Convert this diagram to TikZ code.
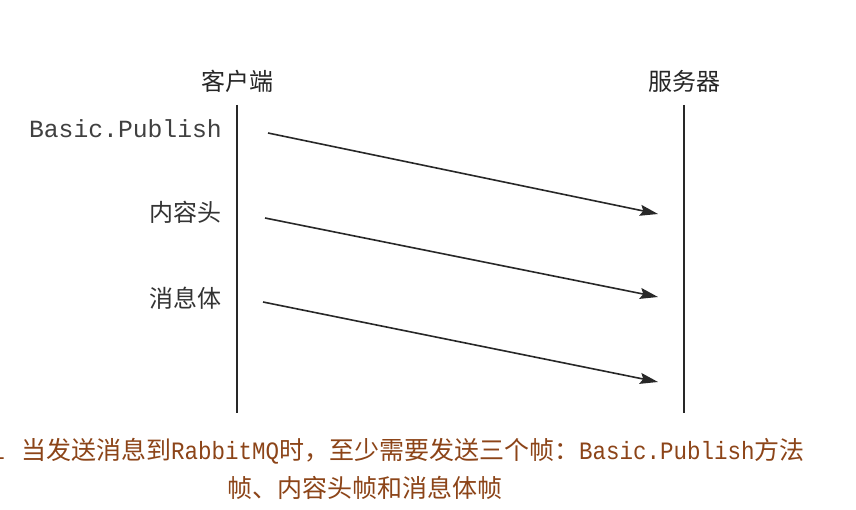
\documentclass[tikz,border=0pt]{standalone}
\usepackage{fontspec}
\usetikzlibrary{arrows.meta}
\newfontfamily\cjk{Noto Sans CJK SC}
\newfontfamily\lblmono{Liberation Mono}
\newfontfamily\capmono[FakeStretch=0.9]{Liberation Mono}
\definecolor{capbrown}{RGB}{140,68,24}
\definecolor{linegray}{RGB}{40,40,40}
\tikzset{
  lifeline/.style={draw=linegray, line width=1.7pt},
  msg/.style={draw=linegray, line width=1.6pt, -{Stealth[length=18pt,width=11pt,inset=3pt]}},
  head/.style={font=\fontsize{24}{26}\cjk, text=black!85, inner sep=0pt},
  lbl/.style={font=\fontsize{24}{26}\cjk, text=black!80, inner sep=0pt, anchor=east},
  lblm/.style={font=\fontsize{24.7}{26}\lblmono, text=black!75, inner sep=0pt, anchor=east},
  capt/.style={text=capbrown, inner sep=0pt, font=\fontsize{25}{28}\cjk}
}
\newcommand{\cm}[1]{{\fontsize{25}{28}\capmono #1}}
\begin{document}
\begin{tikzpicture}[x=1pt,y=-1pt]
\useasboundingbox (0,0) rectangle (856,510);
\clip (0,0) rectangle (856,510);
\fill[white] (0,0) rectangle (856,510);
% headers
\node[head] (client) at (237,81) {客户端};
\node[head] (server) at (684,81) {服务器};
% lifelines
\coordinate (ctop) at (237,105);
\coordinate (cbot) at (237,413);
\coordinate (stop) at (684,105);
\coordinate (sbot) at (684,413);
\draw[lifeline] (ctop) -- (cbot);
\draw[lifeline] (stop) -- (sbot);
% labels
\node[lblm] (l1) at (222,129) {Basic.Publish};
\node[lbl] (l2) at (222,212) {内容头};
\node[lbl] (l3) at (222,298) {消息体};
% arrows
\coordinate (a1s) at (268,133);
\coordinate (a1e) at (658,214);
\coordinate (a2s) at (265,218);
\coordinate (a2e) at (658,297);
\coordinate (a3s) at (263,302);
\coordinate (a3e) at (658,382);
\draw[msg] (a1s) -- (a1e);
\draw[msg] (a2s) -- (a2e);
\draw[msg] (a3s) -- (a3e);
% caption
\node[capt, anchor=east] (c0) at (5,451) {\cm{1}};
\node[capt, anchor=west] (c1) at (21,451) {当发送消息到\cm{RabbitMQ}时，至少需要发送三个帧：\cm{Basic.Publish}方法};
\node[capt] (c2) at (365,488) {帧、内容头帧和消息体帧};
\end{tikzpicture}
\end{document}
